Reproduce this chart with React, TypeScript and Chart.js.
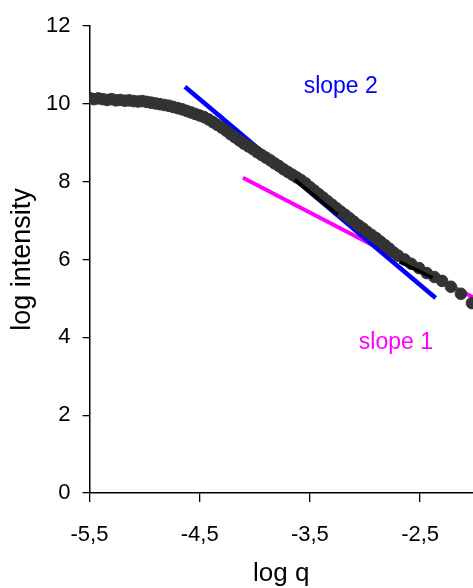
import { useEffect, useRef } from "react";
import { Chart, registerables } from "chart.js";

Chart.register(...registerables);

// ---- data ----
const logQ = [
  -5.5, -5.46, -5.42, -5.38, -5.34, -5.3, -5.26, -5.22, -5.18, -5.14, -5.1, -5.06, -5.02, -4.98,
  -4.94, -4.9, -4.86, -4.82, -4.78, -4.74, -4.7, -4.66, -4.62, -4.58, -4.54, -4.5, -4.46, -4.42,
  -4.38, -4.34, -4.3, -4.26, -4.22, -4.18, -4.14, -4.1, -4.06, -4.02, -3.98, -3.94, -3.9, -3.86,
  -3.82, -3.78, -3.74, -3.7, -3.66, -3.62, -3.58, -3.54, -3.5, -3.46, -3.42, -3.38, -3.34, -3.3,
  -3.26, -3.22, -3.18, -3.14, -3.1, -3.06, -3.02, -2.98, -2.94, -2.9, -2.86, -2.82, -2.78, -2.74,
  -2.7, -2.64, -2.58, -2.51, -2.44, -2.37, -2.3, -2.22, -2.13, -2.03,
];
const logIntensity = [
  10.15, 10.12, 10.14, 10.12, 10.1, 10.12, 10.09, 10.1, 10.08, 10.09, 10.07, 10.06, 10.07, 10.05,
  10.03, 10.01, 9.99, 9.97, 9.95, 9.92, 9.89, 9.86, 9.82, 9.78, 9.74, 9.7, 9.66, 9.6,
  9.53, 9.46, 9.39, 9.31, 9.22, 9.14, 9.06, 8.98, 8.91, 8.84, 8.76, 8.69, 8.62, 8.55,
  8.47, 8.4, 8.32, 8.25, 8.18, 8.11, 8.04, 7.96, 7.86, 7.77, 7.68, 7.59, 7.5, 7.41,
  7.32, 7.23, 7.15, 7.06, 6.97, 6.88, 6.8, 6.71, 6.63, 6.55, 6.46, 6.37, 6.28, 6.18,
  6.1, 6.0, 5.89, 5.78, 5.65, 5.55, 5.45, 5.3, 5.12, 4.88,
];

const slope2X = [-4.634, -2.359];
const slope2Y = [10.44, 5.01];
const slope1X = [-4.108, -1.96];
const slope1Y = [8.1, 4.94];
const fitAX = [-3.637, -3.247];
const fitAY = [8.05, 7.15];
const fitBX = [-2.685, -2.386];
const fitBY = [5.94, 5.53];

const xTicks = [-5.5, -4.5, -3.5, -2.5];
const yTicks = [0, 2, 4, 6, 8, 10, 12];

const noteTexts = ["slope 2", "slope 1"];
const noteX = [-3.22, -2.72];
const noteY = [10.44, 3.86];
const noteColors = ["#0000FF", "#FF00FF"];

const FONT = "'Liberation Sans', Arial, sans-serif";

const pts = (xs: number[], ys: number[]) => xs.map((x, i) => ({ x, y: ys[i] }));

const notesPlugin = {
  id: "notes",
  afterDatasetsDraw(chart: any) {
    const { ctx, scales } = chart;
    ctx.save();
    ctx.font = `23px ${FONT}`;
    ctx.textAlign = "center";
    ctx.textBaseline = "middle";
    noteTexts.forEach((t, i) => {
      ctx.fillStyle = noteColors[i];
      ctx.fillText(t, scales.x.getPixelForValue(noteX[i]), scales.y.getPixelForValue(noteY[i]));
    });
    ctx.restore();
  },
};

export default function App() {
  const ref = useRef<HTMLCanvasElement>(null);
  useEffect(() => {
    if (!ref.current) return;
    const lineDs = (label: string, xs: number[], ys: number[], color: string, w: number, order: number) => ({
      label,
      data: pts(xs, ys),
      showLine: true,
      borderColor: color,
      backgroundColor: color,
      borderWidth: w,
      pointRadius: 0,
      order,
    });
    const chart = new Chart(ref.current, {
      type: "scatter",
      data: {
        datasets: [
          lineDs("fit a", fitAX, fitAY, "#000000", 3.5, 0),
          lineDs("fit b", fitBX, fitBY, "#000000", 3.5, 0),
          {
            label: "data",
            data: pts(logQ, logIntensity),
            pointRadius: 5.8,
            pointBackgroundColor: "#333333",
            pointBorderColor: "#333333",
            pointBorderWidth: 1,
            showLine: false,
            order: 1,
          },
          lineDs("slope 2", slope2X, slope2Y, "#0000FF", 4.5, 2),
          lineDs("slope 1", slope1X, slope1Y, "#FF00FF", 4, 3),
        ],
      },
      options: {
        animation: false,
        responsive: false,
        events: [],
        layout: { autoPadding: false, padding: { top: 26, right: 0, left: 0, bottom: 0 } },
        plugins: { legend: { display: false }, tooltip: { enabled: false } },
        scales: {
          x: {
            type: "linear",
            min: -5.5,
            max: -2.02,
            afterBuildTicks: (s: any) => {
              s.ticks = xTicks.map((v) => ({ value: v }));
            },
            afterFit: (s: any) => {
              s.height = 95;
              s.paddingRight = 0;
              s.paddingLeft = 0;
            },
            grid: { drawOnChartArea: false, drawTicks: true, tickLength: 9, color: "#000", lineWidth: 1.3 },
            border: { display: true, color: "#000", width: 1.5 },
            ticks: {
              color: "#000",
              padding: 20,
              font: { family: FONT, size: 22 },
              callback: (v: any) => String(v).replace(".", ","),
              maxRotation: 0,
              autoSkip: false,
            },
            title: {
              display: true,
              text: "log q",
              color: "#000",
              font: { family: FONT, size: 26, lineHeight: 1.0 },
              padding: { top: 0, bottom: 1 },
            },
          },
          y: {
            type: "linear",
            min: 0,
            max: 12,
            afterBuildTicks: (s: any) => {
              s.ticks = yTicks.map((v) => ({ value: v }));
            },
            afterFit: (s: any) => {
              s.width = 89.5;
            },
            grid: { drawOnChartArea: false, drawTicks: true, tickLength: 7, color: "#000", lineWidth: 1.3 },
            border: { display: true, color: "#000", width: 1.5 },
            ticks: {
              color: "#000",
              padding: 12,
              font: { family: FONT, size: 22 },
              callback: (v: any) => String(v),
            },
            title: {
              display: true,
              text: "log intensity",
              color: "#000",
              font: { family: FONT, size: 27, lineHeight: 1.0 },
              padding: { top: 9, bottom: 0 },
            },
          },
        },
      },
      plugins: [notesPlugin],
    });
    return () => chart.destroy();
  }, []);

  return (
    <div style={{ position: "absolute", left: 0, top: 0, width: 473, height: 588, background: "#fff" }}>
      <canvas ref={ref} width={473} height={588} style={{ display: "block" }} />
    </div>
  );
}
